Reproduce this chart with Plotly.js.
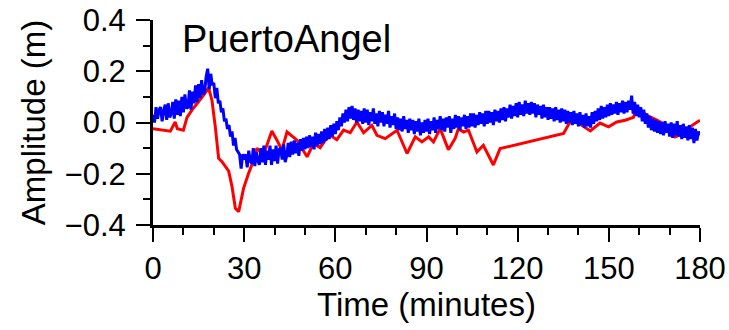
<!DOCTYPE html>
<html>
<head>
<meta charset="utf-8">
<script src="https://cdn.plot.ly/plotly-3.0.1.min.js"></script>
<style>html,body{margin:0;padding:0;background:#fff;}#chart{width:729px;height:330px;}</style>
</head>
<body>
<div id="chart"></div>
<script>
// Observed (red) series
var obsTime = [0, 5.7, 7.3, 8, 10, 11.2, 12.8, 14.5, 16.6, 18.3, 19.4, 20.5, 21.6, 22.7, 24.9, 26, 27.1, 28.2, 29.8, 31.4, 33.1, 34.2, 35.3, 36.9, 39.1, 40.8, 42.4, 44.1, 47.4, 50.7, 52.8, 55, 56.7, 58.3, 60.5, 62.7, 64.9, 67.1, 69.3, 72, 73.7, 76.4, 80.3, 83.6, 86.3, 88.5, 90.7, 92.3, 94.5, 97.2, 99.4, 100.5, 102.2, 103.8, 106.6, 108.7, 112, 114.2, 135.1, 137.8, 141.1, 143.9, 147.1, 149.9, 152.6, 155.4, 158.1, 159.2, 162.5, 165.8, 169, 171.8, 174.5, 176.7, 180];
var obsAmp = [-0.024, -0.034, 0.002, -0.024, -0.030, 0.020, 0.048, 0.074, 0.106, 0.135, 0.087, -0.017, -0.140, -0.153, -0.190, -0.250, -0.335, -0.348, -0.257, -0.200, -0.147, -0.100, -0.115, -0.108, -0.033, -0.069, -0.108, -0.037, -0.069, -0.134, -0.082, -0.098, -0.069, -0.050, -0.067, -0.030, -0.040, 0.002, -0.040, -0.011, -0.050, -0.063, -0.030, -0.121, -0.056, -0.076, -0.056, -0.076, -0.024, -0.106, -0.063, -0.024, -0.037, -0.030, -0.115, -0.089, -0.166, -0.102, -0.043, 0.015, -0.011, -0.033, -0.002, -0.017, 0.002, 0.009, 0.020, 0.060, 0.028, 0.009, -0.011, -0.056, -0.043, -0.017, 0.009];

// Simulated (blue) series, sampled every 0.5 minutes from 0 to 180
var simStart = 0, simStep = 0.5;
var simAmp = [
 0.030,0.000,0.060,0.015,0.050,0.060,0.005,0.045,0.070,0.010,
 0.075,0.020,0.035,0.080,0.015,0.090,0.030,0.085,0.025,0.100,
 0.040,0.110,0.055,0.060,0.125,0.050,0.120,0.075,0.145,0.080,
 0.150,0.095,0.165,0.110,0.120,0.180,0.210,0.130,0.190,0.145,
 0.155,0.095,0.135,0.075,0.085,0.040,0.055,0.005,0.015,-0.025,
 -0.010,-0.055,-0.035,-0.090,-0.060,-0.105,-0.115,-0.125,-0.180,-0.125,
 -0.135,-0.125,-0.175,-0.110,-0.150,-0.160,-0.100,-0.170,-0.115,-0.150,
 -0.165,-0.100,-0.155,-0.090,-0.165,-0.110,-0.145,-0.090,-0.165,-0.105,
 -0.150,-0.090,-0.160,-0.105,-0.100,-0.145,-0.085,-0.155,-0.130,-0.080,
 -0.135,-0.075,-0.125,-0.070,-0.120,-0.080,-0.130,-0.065,-0.110,-0.060,
 -0.105,-0.055,-0.100,-0.050,-0.095,-0.055,-0.105,-0.040,-0.090,-0.045,
 -0.085,-0.035,-0.080,-0.025,-0.070,-0.020,-0.065,-0.010,-0.055,-0.005,
 -0.045,0.005,-0.030,0.020,-0.015,0.035,0.000,0.050,0.005,0.060,
 0.015,0.065,0.010,0.055,0.000,0.050,0.005,0.045,-0.005,0.055,
 0.000,0.050,-0.010,0.040,0.005,0.055,-0.005,0.035,-0.015,0.045,
 0.000,0.040,-0.015,0.030,-0.005,0.045,-0.020,0.025,-0.010,0.035,
 -0.025,0.020,-0.030,0.015,-0.035,0.025,-0.025,0.010,-0.040,0.015,
 -0.030,0.010,-0.045,0.005,-0.035,0.015,-0.050,0.000,-0.040,0.010,
 -0.035,0.015,-0.045,0.005,-0.030,0.020,-0.040,0.010,-0.025,0.025,
 -0.030,0.015,-0.035,0.020,-0.020,0.025,-0.040,0.015,-0.025,0.030,
 -0.020,0.025,-0.030,0.020,-0.015,0.030,-0.025,0.025,-0.020,0.035,
 -0.015,0.035,-0.020,0.030,-0.010,0.040,-0.005,0.035,-0.015,0.045,
 -0.005,0.045,0.000,0.040,-0.010,0.050,0.005,0.045,0.000,0.055,
 0.010,0.060,0.005,0.055,0.020,0.070,0.015,0.065,0.025,0.075,
 0.020,0.080,0.030,0.070,0.025,0.085,0.035,0.075,0.030,0.080,
 0.035,0.075,0.020,0.070,0.030,0.065,0.015,0.070,0.020,0.060,
 0.010,0.060,0.015,0.055,0.005,0.060,0.010,0.050,0.000,0.055,
 0.005,0.050,-0.005,0.045,0.000,0.040,-0.010,0.045,-0.005,0.035,
 -0.015,0.040,-0.010,0.030,-0.020,0.035,-0.015,0.025,-0.020,0.040,
 -0.005,0.045,0.005,0.055,0.010,0.065,0.015,0.060,0.020,0.070,
 0.025,0.075,0.030,0.070,0.035,0.080,0.030,0.075,0.040,0.085,
 0.035,0.080,0.040,0.085,0.050,0.105,0.035,0.080,0.025,0.070,
 0.020,0.060,0.005,0.050,-0.005,0.035,-0.020,0.025,-0.030,0.015,
 -0.035,0.010,-0.040,0.005,-0.045,0.000,-0.050,0.005,-0.040,-0.005,
 -0.055,0.000,-0.060,-0.005,-0.050,0.005,-0.055,-0.010,-0.065,-0.005,
 -0.060,-0.015,-0.070,-0.010,-0.065,-0.020,-0.080,-0.025,-0.070,-0.035,
 -0.050
];

var stationName = "PuertoAngel";
var xTickVals = [0, 30, 60, 90, 120, 150, 180];
var yTickVals = [-0.4, -0.2, 0.0, 0.2, 0.4];

var simTime = simAmp.map(function(_, i){ return simStart + i * simStep; });

var FONT = "Liberation Sans, Arial, Helvetica, sans-serif";

var traces = [
  {x: obsTime, y: obsAmp, type: "scatter", mode: "lines",
   line: {color: "#ff0000", width: 3, simplify: false}, hoverinfo: "skip"},
  {x: simTime, y: simAmp, type: "scatter", mode: "lines",
   line: {color: "#0000ff", width: 3, simplify: false}, hoverinfo: "skip"}
];

var layout = {
  width: 729, height: 330,
  margin: {l: 153, r: 29, t: 20, b: 105, pad: 0},
  paper_bgcolor: "#fff", plot_bgcolor: "#fff",
  showlegend: false,
  font: {family: FONT, color: "#000", size: 31},
  xaxis: {
    range: [0, 180], tickvals: xTickVals, ticktext: xTickVals.map(String),
    showgrid: false, zeroline: false,
    showline: true, linecolor: "#000", linewidth: 3,
    ticks: "outside", ticklen: 14, tickwidth: 2, tickcolor: "#000",
    minor: {dtick: 10, tick0: 0, ticks: "outside", ticklen: 7, tickwidth: 2, tickcolor: "#000", showgrid: false},
    tickfont: {family: FONT, size: 31, color: "#000"},
    ticklabelstandoff: 0,
    title: {text: "Time (minutes)", font: {family: FONT, size: 33, color: "#000"}, standoff: 7}
  },
  yaxis: {
    range: [-0.4, 0.4], tickvals: yTickVals, tickformat: ".1f",
    showgrid: false, zeroline: false,
    showline: true, linecolor: "#000", linewidth: 3,
    ticks: "outside", ticklen: 14, tickwidth: 2, tickcolor: "#000",
    minor: {dtick: 0.1, tick0: 0, ticks: "outside", ticklen: 7, tickwidth: 2, tickcolor: "#000", showgrid: false},
    tickfont: {family: FONT, size: 31, color: "#000"},
    ticklabelstandoff: 4,
    title: {text: "Amplitude (m)", font: {family: FONT, size: 33, color: "#000"}, standoff: 10}
  },
  annotations: [{
    text: stationName, xref: "paper", yref: "paper",
    x: 0.05, y: 0.905, xanchor: "left", yanchor: "middle",
    showarrow: false, font: {family: FONT, size: 38, color: "#000"}
  }]
};

Plotly.newPlot("chart", traces, layout, {staticPlot: true, displayModeBar: false});
</script>
</body>
</html>
